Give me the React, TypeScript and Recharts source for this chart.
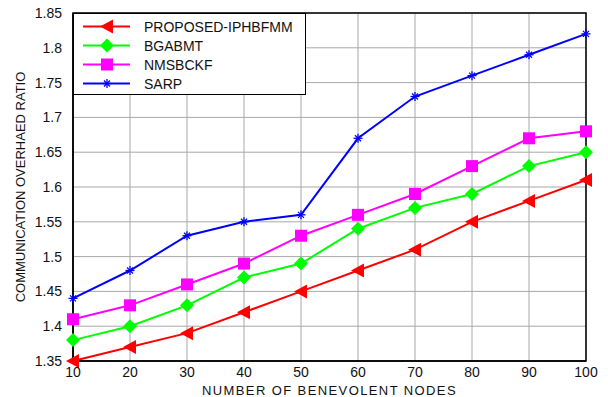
import React from 'react';
import { LineChart, Line, XAxis, YAxis, CartesianGrid, ReferenceArea } from 'recharts';

const nodes = [10, 20, 30, 40, 50, 60, 70, 80, 90, 100];
const proposed = [1.35, 1.37, 1.39, 1.42, 1.45, 1.48, 1.51, 1.55, 1.58, 1.61];
const bgabmt = [1.38, 1.4, 1.43, 1.47, 1.49, 1.54, 1.57, 1.59, 1.63, 1.65];
const nmsbckf = [1.41, 1.43, 1.46, 1.49, 1.53, 1.56, 1.59, 1.63, 1.67, 1.68];
const sarp = [1.44, 1.48, 1.53, 1.55, 1.56, 1.67, 1.73, 1.76, 1.79, 1.82];
const yTicks = [1.35, 1.4, 1.45, 1.5, 1.55, 1.6, 1.65, 1.7, 1.75, 1.8, 1.85];

const data = nodes.map((n, i) => ({
  n,
  proposed: proposed[i],
  bgabmt: bgabmt[i],
  nmsbckf: nmsbckf[i],
  sarp: sarp[i],
}));

const FONT = '"Liberation Sans", Arial, sans-serif';

const Marker = ({ kind, cx, cy, color }: { kind: string; cx: number; cy: number; color: string }) => {
  if (cx == null || cy == null) return null;
  if (kind === 'tri') {
    return <polygon points={`${cx - 7},${cy} ${cx + 6},${cy - 7} ${cx + 6},${cy + 7}`} fill={color} />;
  }
  if (kind === 'dia') {
    return <polygon points={`${cx},${cy - 7} ${cx + 7},${cy} ${cx},${cy + 7} ${cx - 7},${cy}`} fill={color} />;
  }
  if (kind === 'sq') {
    return <rect x={cx - 6} y={cy - 6} width={12} height={12} fill={color} />;
  }
  return (
    <g stroke={color} strokeWidth={1.3}>
      <line x1={cx - 4.5} y1={cy} x2={cx + 4.5} y2={cy} />
      <line x1={cx} y1={cy - 4.5} x2={cx} y2={cy + 4.5} />
      <line x1={cx - 3} y1={cy - 3} x2={cx + 3} y2={cy + 3} />
      <line x1={cx - 3} y1={cy + 3} x2={cx + 3} y2={cy - 3} />
    </g>
  );
};

const series = [
  { key: 'proposed', name: 'PROPOSED-IPHBFMM', color: '#ff0000', kind: 'tri' },
  { key: 'bgabmt', name: 'BGABMT', color: '#00ff00', kind: 'dia' },
  { key: 'nmsbckf', name: 'NMSBCKF', color: '#ff00ff', kind: 'sq' },
  { key: 'sarp', name: 'SARP', color: '#0000ff', kind: 'star' },
];

const LegendBox = () => (
  <div
    style={{
      position: 'absolute',
      left: 73,
      top: 13,
      width: 233,
      height: 82,
      border: '1.5px solid #000',
      background: '#fff',
      boxSizing: 'border-box',
      paddingTop: 3,
    }}
  >
    {series.map((s) => (
      <div key={s.key} style={{ display: 'flex', alignItems: 'center', height: 19 }}>
        <svg width={61} height={19} style={{ marginLeft: 9, flexShrink: 0 }}>
          <line x1={0} y1={9.5} x2={47} y2={9.5} stroke={s.color} strokeWidth={2} />
          <Marker kind={s.kind} cx={24} cy={9.5} color={s.color} />
        </svg>
        <span style={{ fontFamily: FONT, fontSize: 14, color: '#111', whiteSpace: 'nowrap' }}>{s.name}</span>
      </div>
    ))}
  </div>
);

export default function App() {
  return (
    <div style={{ position: 'absolute', left: 0, top: 0, width: 608, height: 397, background: '#fff' }}>
      <LineChart width={608} height={397} data={data} margin={{ top: 13, right: 22, bottom: 0, left: 0 }}>
        <CartesianGrid stroke="#a8a8a8" strokeWidth={1} />
        <XAxis
          dataKey="n"
          type="number"
          domain={[10, 100]}
          ticks={nodes}
          height={36}
          axisLine={{ stroke: '#000', strokeWidth: 1.5 }}
          tickLine={false}
          tick={{ fill: '#111', fontSize: 14, fontFamily: FONT }}
          tickMargin={0}
          label={{ value: 'NUMBER OF BENEVOLENT NODES', position: 'insideBottom', offset: 2, fill: '#111', fontSize: 13, fontFamily: FONT, style: { letterSpacing: 1.4 } }}
        />
        <YAxis
          type="number"
          domain={[1.35, 1.85]}
          ticks={yTicks}
          width={73}
          axisLine={{ stroke: '#000', strokeWidth: 1.5 }}
          tickLine={false}
          tick={{ fill: '#111', fontSize: 14, fontFamily: FONT }}
          tickMargin={5}
          tickFormatter={(v: number) => String(Number(v.toFixed(2)))}
          label={{ value: 'COMMUNICATION OVERHAED RATIO', angle: -90, position: 'insideLeft', offset: 20, fill: '#111', fontSize: 13, fontFamily: FONT, style: { textAnchor: 'middle' } }}
        />
        <ReferenceArea x1={10} x2={100} y1={1.35} y2={1.85} stroke="#000" strokeWidth={1.5} fill="none" ifOverflow="visible" />
        {series.map((s) => (
          <Line
            key={s.key}
            dataKey={s.key}
            name={s.name}
            stroke={s.color}
            strokeWidth={2}
            isAnimationActive={false}
            dot={(p: any) => <Marker key={`${s.key}-${p.index}`} kind={s.kind} cx={p.cx} cy={p.cy} color={s.color} />}
            activeDot={false}
          />
        ))}
      </LineChart>
      <LegendBox />
    </div>
  );
}
